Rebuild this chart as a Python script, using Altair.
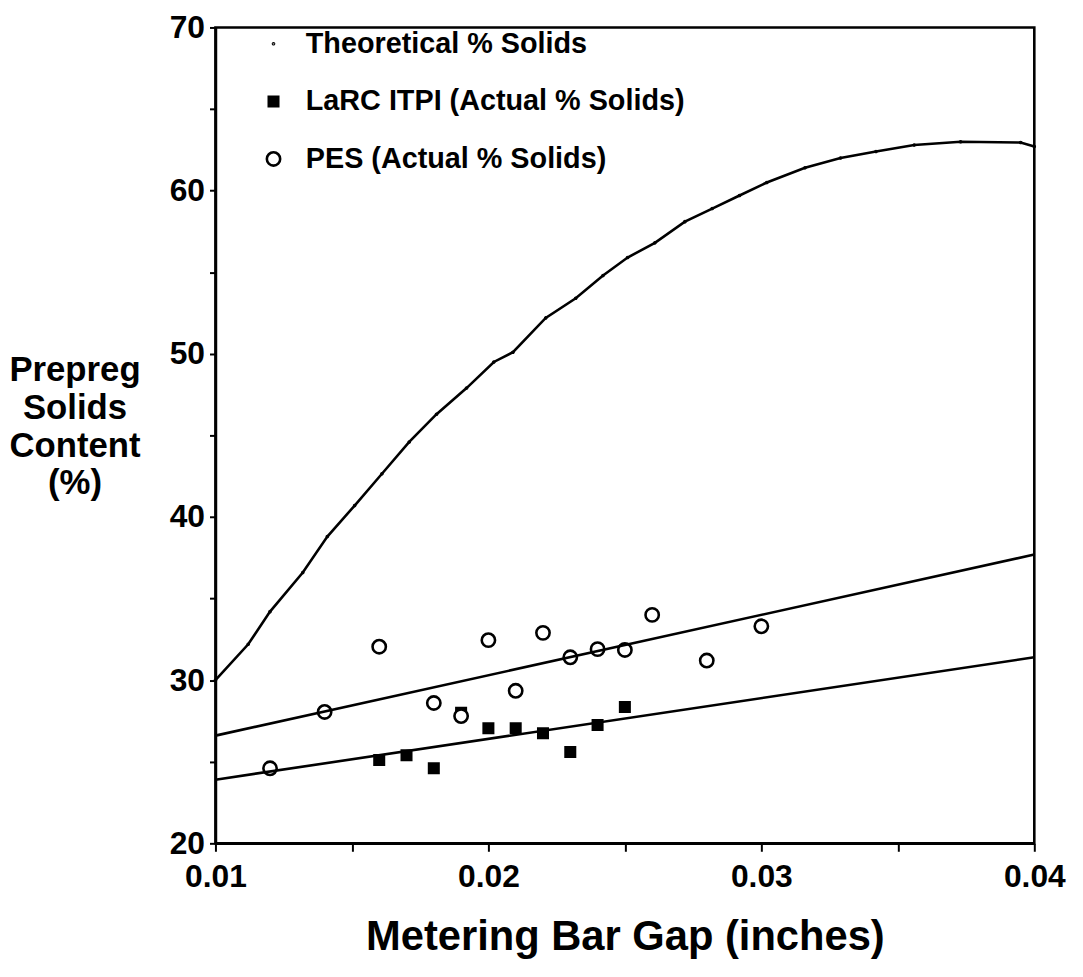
import altair as alt
import pandas as pd

# Theoretical % solids curve
theo_x = [0.0100, 0.0112, 0.0120, 0.0132, 0.0141, 0.0151, 0.0161, 0.0171, 0.0181,
          0.0192, 0.0202, 0.0209, 0.0221, 0.0232, 0.0242, 0.0251, 0.0261, 0.0272,
          0.0282, 0.0292, 0.0302, 0.0316, 0.0329, 0.0342, 0.0356, 0.0373, 0.0395, 0.0400]
theo_y = [30.0, 32.2, 34.2, 36.6, 38.8, 40.7, 42.65, 44.6, 46.3,
          47.9, 49.5, 50.1, 52.2, 53.4, 54.8, 55.9, 56.8, 58.1,
          58.9, 59.7, 60.5, 61.4, 62.0, 62.4, 62.8, 63.0, 62.95, 62.7]

# LaRC ITPI actual % solids
larc_x = [0.016, 0.017, 0.018, 0.019, 0.020, 0.021, 0.022, 0.023, 0.024, 0.025]
larc_y = [25.1, 25.4, 24.6, 28.0, 27.05, 27.05, 26.75, 25.6, 27.25, 28.35]

# PES actual % solids
pes_x = [0.012, 0.014, 0.016, 0.018, 0.019, 0.020, 0.021, 0.022, 0.023, 0.024,
         0.025, 0.026, 0.028, 0.030]
pes_y = [24.6, 28.05, 32.05, 28.6, 27.8, 32.45, 29.35, 32.9, 31.4, 31.9,
         31.85, 34.0, 31.2, 33.3]

# Linear fits (end points)
fit_x = [0.01, 0.04]
pes_fit_y = [26.6, 37.7]
larc_fit_y = [23.9, 31.4]

series_names = ["Theoretical % Solids", "LaRC ITPI (Actual % Solids)", "PES (Actual % Solids)"]

pts = pd.concat([
    pd.DataFrame({"x": theo_x, "y": theo_y, "series": series_names[0], "k": 0}),
    pd.DataFrame({"x": larc_x, "y": larc_y, "series": series_names[1], "k": 1}),
    pd.DataFrame({"x": pes_x, "y": pes_y, "series": series_names[2], "k": 2}),
], ignore_index=True)

lines = pd.concat([
    pd.DataFrame({"x": theo_x, "y": theo_y, "line": "theo"}),
    pd.DataFrame({"x": fit_x, "y": pes_fit_y, "line": "pesfit"}),
    pd.DataFrame({"x": fit_x, "y": larc_fit_y, "line": "larcfit"}),
], ignore_index=True)

FONT = "Liberation Sans"

xscale = alt.Scale(domain=[0.01, 0.04], nice=False, zero=False)
yscale = alt.Scale(domain=[20, 70], nice=False, zero=False)

xaxis = alt.Axis(
    values=[0.01, 0.015, 0.02, 0.025, 0.03, 0.035, 0.04],
    labelExpr="round(datum.value*1000) % 10 == 0 ? format(datum.value, '.2f') : ''",
    tickSize=8, labelPadding=10, labelFlush=False, labelOverlap=False,
    title="Metering Bar Gap (inches)", titleFontSize=42, titleY=107,
    titleBaseline="alphabetic",
)
yaxis = alt.Axis(
    values=[20, 25, 30, 35, 40, 45, 50, 55, 60, 65, 70],
    labelExpr="round(datum.value) % 10 == 0 ? datum.label : ''",
    tickSize=6, labelPadding=5, labelFlush=False, labelOverlap=False,
    title=["Prepreg", "Solids", "Content", "(%)"], titleAngle=0,
    titleAlign="center", titleX=-142, titleY=356, titleBaseline="alphabetic",
    titleFontSize=35, titleLineHeight=38,
)

leg = alt.Legend(
    title=None, orient="none", legendX=44, legendY=2,
    symbolStrokeColor="black", symbolStrokeWidth=2.6,
)

points = alt.Chart(pts).mark_point(filled=True, strokeWidth=2.6, opacity=1).encode(
    x=alt.X("x:Q", scale=xscale, axis=xaxis),
    y=alt.Y("y:Q", scale=yscale, axis=yaxis),
    shape=alt.Shape("series:N", scale=alt.Scale(domain=series_names, range=["circle", "square", "circle"]),
                    legend=leg),
    fill=alt.Fill("series:N", scale=alt.Scale(domain=series_names, range=["black", "black", "white"]),
                  legend=leg),
    stroke=alt.Stroke("series:N", scale=alt.Scale(domain=series_names, range=["black", "black", "black"]),
                      legend=leg),
    size=alt.Size("series:N", scale=alt.Scale(domain=series_names, range=[1, 180, 190]),
                  legend=leg),
    order=alt.Order("k:Q"),
)

line_layer = alt.Chart(lines).mark_line(color="black", strokeWidth=2.6).encode(
    x=alt.X("x:Q", scale=xscale),
    y=alt.Y("y:Q", scale=yscale),
    detail="line:N",
)

chart = alt.layer(points, line_layer).properties(
    width=825, height=822,
    autosize=alt.AutoSizeParams(type="none"),
    padding={"left": 209, "top": 16, "right": 41, "bottom": 120},
).configure_view(
    stroke="black", strokeWidth=2.6,
).configure_axis(
    grid=False, domainColor="black", domainWidth=2.6, tickColor="black", tickWidth=2,
    labelFont=FONT, labelFontSize=32, labelFontWeight="bold", labelColor="black",
    titleFont=FONT, titleFontWeight="bold", titleColor="black",
).configure_legend(
    labelFont=FONT, labelFontSize=29, labelFontWeight="bold", labelColor="black",
    labelLimit=0, rowPadding=28, padding=0, labelOffset=18,
)

chart.save("out.html", embed_options={"renderer": "svg", "actions": False})
